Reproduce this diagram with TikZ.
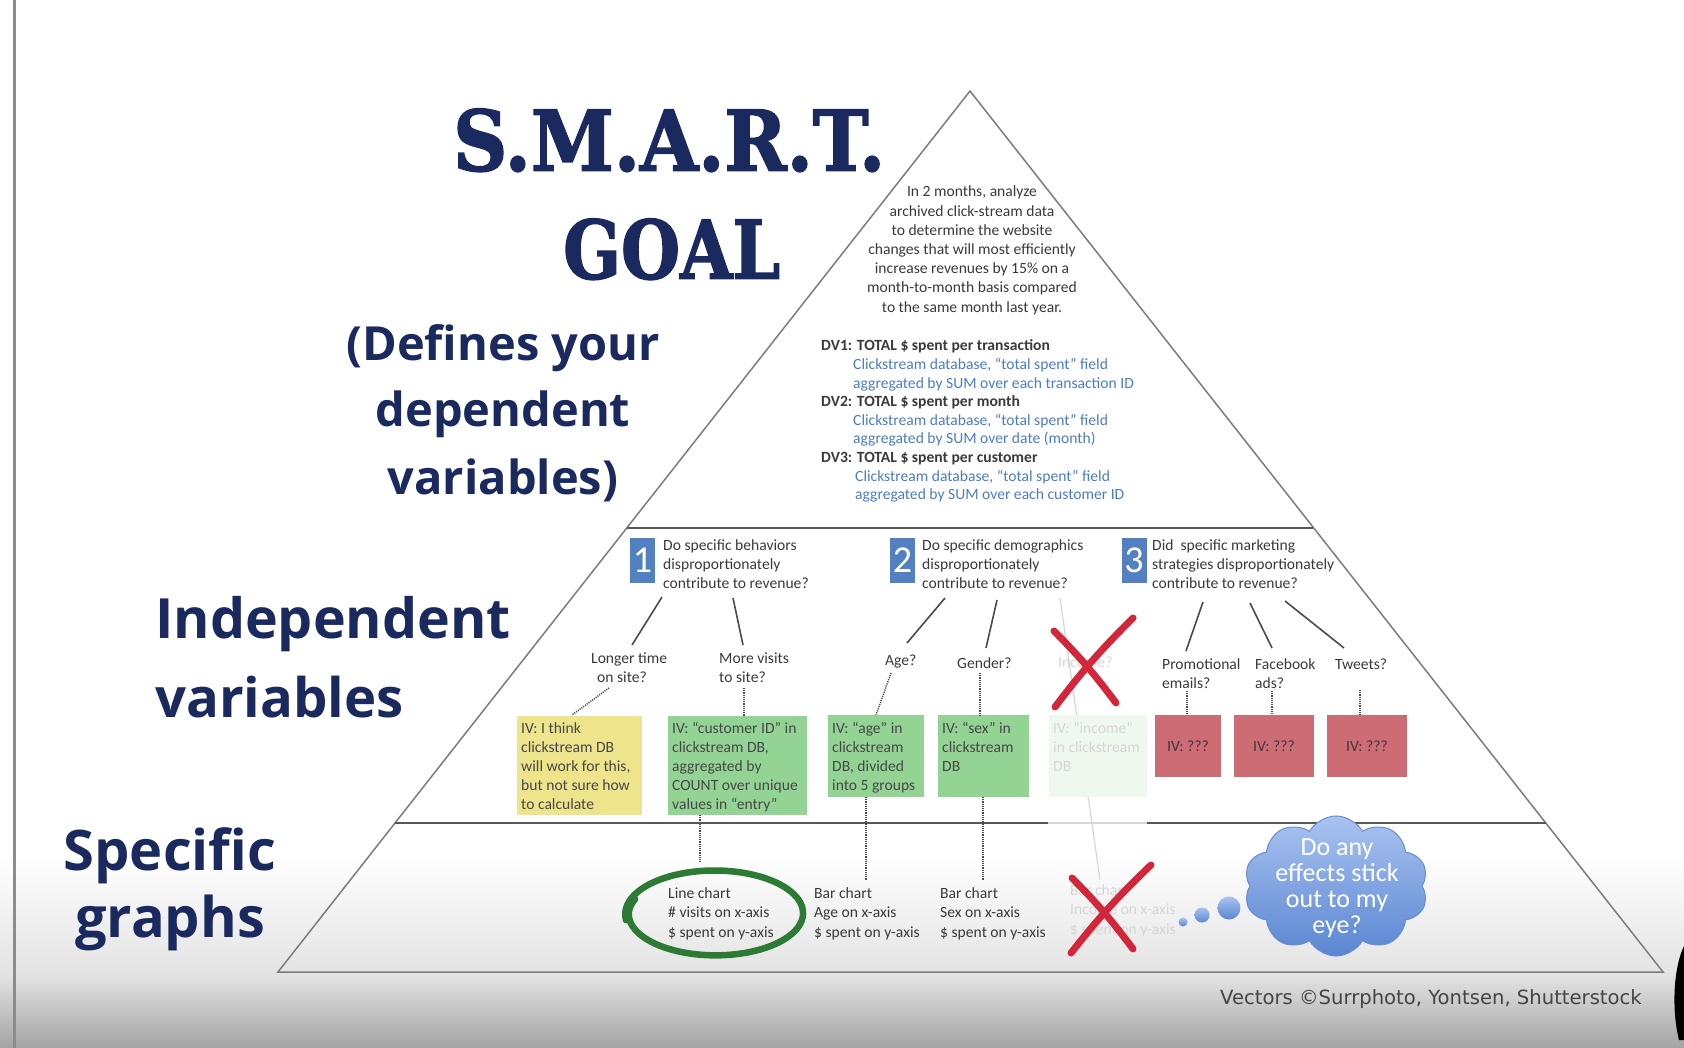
\documentclass[tikz,border=0pt]{standalone}
\usepackage{fontspec}
\usepackage{graphicx}
\setmainfont{Carlito}
\newfontfamily\headsans{Open Sans}
\newfontfamily\creditfont{DejaVu Sans}
\newfontfamily\stencilish[BoldFeatures={FakeBold=2}]{DejaVu Serif}
\usetikzlibrary{shapes.symbols,calc}

\definecolor{navy}{HTML}{1B2A5E}
\definecolor{txt}{HTML}{3A3A3A}
\definecolor{dvblue}{HTML}{4C7DC6}
\definecolor{numblue}{HTML}{5280C0}
\definecolor{ivyellow}{HTML}{EDE48C}
\definecolor{ivgreen}{HTML}{93D394}
\definecolor{ivpale}{HTML}{EFF8EF}
\definecolor{ivred}{HTML}{CE6C75}
\definecolor{edge}{HTML}{7C7C7C}
\definecolor{divider}{HTML}{585858}
\definecolor{conn}{HTML}{4A4A4A}
\definecolor{faint}{HTML}{D6D6D6}
\definecolor{ringgreen}{HTML}{2C7A34}
\definecolor{xred}{HTML}{D2263A}
\definecolor{cloudtop}{HTML}{A9C3F0}
\definecolor{cloudbot}{HTML}{5A86D2}
\definecolor{cloudedge}{HTML}{6A8ED0}
\definecolor{credit}{HTML}{444444}

\newcommand\leftlines[1]{\begin{tabular}[t]{@{}l@{}}#1\end{tabular}}
\newcommand\centerlines[1]{\begin{tabular}[t]{@{}c@{}}#1\end{tabular}}

\tikzset{
  small/.style={inner sep=0pt, text=txt, font=\fontsize{15.6}{19}\selectfont},
  fainttext/.style={small, text=faint},
  bigleft/.style={inner sep=0pt, text=navy, anchor=base},
  sideline/.style={draw=edge, line width=1.5pt},
  divline/.style={draw=divider, line width=2.4pt},
  solidconn/.style={draw=conn, line width=1.6pt},
  dotconn/.style={draw=conn, line width=1.5pt, dash pattern=on 1.1pt off 1.1pt},
  numbox/.style={fill=numblue, minimum width=25pt, minimum height=45pt, inner sep=0pt,
    text=white, font=\fontsize{38}{38}\selectfont},
  ivbox/.style={inner sep=0pt, anchor=north west},
  redbox/.style={fill=ivred, minimum width=66pt, minimum height=62pt, inner sep=0pt,
    text=txt, font=\fontsize{15.6}{19}\selectfont},
  xmark/.style={draw=xred, line width=7pt, line cap=round},
  bubble/.style={circle, inner sep=0pt, top color=cloudtop, bottom color=cloudbot},
}

\begin{document}
\begin{tikzpicture}[x=1pt,y=-1pt]
% page and bottom fade
\useasboundingbox (0,0) rectangle (1684,1048);
\fill[white] (0,0) rectangle (1684,1048);
\shade[top color=white, bottom color=gray!22] (0,855) rectangle (1684,975);
\shade[top color=gray!22, bottom color=gray!72] (0,975) rectangle (1684,1048);
\draw[line width=3pt, draw=gray!90] (14,0) -- (14,1048);
\fill[black] (1684,946) .. controls (1674,966) and (1671,1008) .. (1679,1040) -- (1684,1040) -- cycle;

% pyramid
\coordinate (apex) at (970,91);
\coordinate (bl) at (278,972);
\coordinate (br) at (1663,972);
\draw[sideline] (bl) -- (apex) -- (br) -- cycle;
\draw[divline] (626.7,528) -- (1313.3,528);
\draw[divline] (395,823) -- (1048,823);
\draw[draw=faint, line width=2pt] (1048,823) -- (1147,823);
\draw[divline] (1147,823) -- (1546,823);

% title
\node[anchor=south west, inner sep=0pt, text=navy] (smart) at (453,172)
  {\resizebox{432pt}{62pt}{\stencilish\bfseries S.M.A.R.T.}};
\node[anchor=south west, inner sep=0pt, text=navy] (goal) at (563,280)
  {\resizebox{217pt}{60pt}{\stencilish\bfseries GOAL}};

% left-hand level labels
\node[bigleft, font=\headsans\bfseries\fontsize{47}{47}\selectfont] (def1) at (503,361) {(Defines your};
\node[bigleft, font=\headsans\bfseries\fontsize{47}{47}\selectfont] (def2) at (503,427) {dependent};
\node[bigleft, font=\headsans\bfseries\fontsize{47}{47}\selectfont] (def3) at (503,494) {variables)};
\node[bigleft, anchor=base west, font=\headsans\bfseries\fontsize{55.5}{55.5}\selectfont] (ind1) at (155,638) {Independent};
\node[bigleft, anchor=base west, font=\headsans\bfseries\fontsize{54.5}{54.5}\selectfont] (ind2) at (155,717) {variables};
\node[bigleft, font=\headsans\bfseries\fontsize{56}{56}\selectfont] (spec1) at (170,870) {Specific};
\node[bigleft, font=\headsans\bfseries\fontsize{56}{56}\selectfont] (spec2) at (170,937) {graphs};

% goal statement
\node[small, anchor=base, font=\fontsize{15.6}{19.2}\selectfont] (goaltxt) at (972,197)
  {\centerlines{In 2 months, analyze\\ archived click-stream data\\ to determine the website\\
   changes that will most efficiently\\ increase revenues by 15\% on a\\
   month-to-month basis compared\\ to the same month last year.}};

% dependent variables
\node[small, anchor=base west, font=\fontsize{15.6}{18.6}\selectfont] (dvs) at (821,351)
  {\leftlines{\textbf{DV1: TOTAL \$ spent per transaction}\\
   \hspace*{32pt}\textcolor{dvblue}{Clickstream database, “total spent” field}\\
   \hspace*{32pt}\textcolor{dvblue}{aggregated by SUM over each transaction ID}\\
   \textbf{DV2: TOTAL \$ spent per month}\\
   \hspace*{32pt}\textcolor{dvblue}{Clickstream database, “total spent” field}\\
   \hspace*{32pt}\textcolor{dvblue}{aggregated by SUM over date (month)}\\
   \textbf{DV3: TOTAL \$ spent per customer}\\
   \hspace*{34pt}\textcolor{dvblue}{Clickstream database, “total spent” field}\\
   \hspace*{34pt}\textcolor{dvblue}{aggregated by SUM over each customer ID}}};

% research questions
\node[numbox] (n1) at (642.5,560.5) {1};
\node[numbox] (n2) at (902.5,560.5) {2};
\node[numbox] (n3) at (1134,560.5) {3};
\node[small, anchor=base west] (q1) at (663,550)
  {\leftlines{Do specific behaviors\\ disproportionately\\ contribute to revenue?}};
\node[small, anchor=base west] (q2) at (922,550)
  {\leftlines{Do specific demographics\\ disproportionately\\ contribute to revenue?}};
\node[small, anchor=base west] (q3) at (1152,550)
  {\leftlines{Did\ \ specific marketing\\ strategies disproportionately\\ contribute to revenue?}};

% candidate factors
\node[small, anchor=base west] (longer) at (591,663) {\leftlines{Longer time\\ \hspace*{6pt}on site?}};
\node[small, anchor=base west] (visits) at (719,663) {\leftlines{More visits\\ to site?}};
\node[small, anchor=base west] (age) at (885,665) {Age?};
\node[small, anchor=base west] (gender) at (957,668) {Gender?};
\node[fainttext, anchor=base west] (income) at (1058,667) {Income?};
\node[small, anchor=base west] (promo) at (1162,669) {\leftlines{Promotional\\ emails?}};
\node[small, anchor=base west] (fb) at (1255,669) {\leftlines{Facebook\\ ads?}};
\node[small, anchor=base west] (tweets) at (1335,669) {Tweets?};

% faint line of the dropped income branch
\coordinate (incTop) at (1060,598);
\coordinate (incBot) at (1100,880);
\draw[draw=faint, line width=1.2pt] (incTop) -- (incBot);

% connectors question -> factor
\coordinate (q1a) at (662,597); \coordinate (q1b) at (733,598);
\coordinate (q2a) at (945,598); \coordinate (q2b) at (997,600);
\coordinate (q3a) at (1203,602); \coordinate (q3b) at (1250,603); \coordinate (q3c) at (1285,601);
\coordinate (longerT) at (632,645); \coordinate (visitsT) at (743,645);
\coordinate (ageT) at (907,643); \coordinate (genderT) at (986,648);
\coordinate (promoT) at (1186,651); \coordinate (fbT) at (1272,648); \coordinate (tweetsT) at (1344,648);
\draw[solidconn] (q1a) -- (longerT);
\draw[solidconn] (q1b) -- (visitsT);
\draw[solidconn] (q2a) -- (ageT);
\draw[solidconn] (q2b) -- (genderT);
\draw[solidconn] (q3a) -- (promoT);
\draw[solidconn] (q3b) -- (fbT);
\draw[solidconn] (q3c) -- (tweetsT);

% independent-variable boxes
\node[ivbox, fill=ivyellow, minimum width=125pt, minimum height=99pt] (ivA) at (517,716) {};
\node[ivbox, fill=ivgreen, minimum width=139pt, minimum height=99pt] (ivB) at (668,716) {};
\node[ivbox, fill=ivgreen, minimum width=96pt, minimum height=82pt] (ivC) at (828,715) {};
\node[ivbox, fill=ivgreen, minimum width=91pt, minimum height=82pt] (ivD) at (938,715) {};
\node[ivbox, fill=ivpale, minimum width=98pt, minimum height=82pt] (ivE) at (1049,715) {};
\node[redbox] (ivF) at (1188,746) {IV: ???};
\node[redbox, minimum width=80pt] (ivG) at (1274,746) {IV: ???};
\node[redbox, minimum width=80pt] (ivH) at (1367,746) {IV: ???};

\node[small, anchor=base west, text=black!72] (ivAtxt) at (521,733)
  {\leftlines{IV: I think\\ clickstream DB\\ will work for this,\\ but not sure how\\ to calculate}};
\node[small, anchor=base west, text=black!72] (ivBtxt) at (672,733)
  {\leftlines{IV: “customer ID” in\\ clickstream DB,\\ aggregated by\\ COUNT over unique\\ values in “entry”}};
\node[small, anchor=base west, text=black!72] (ivCtxt) at (832,733)
  {\leftlines{IV: “age” in\\ clickstream\\ DB, divided\\ into 5 groups}};
\node[small, anchor=base west, text=black!72] (ivDtxt) at (942,733)
  {\leftlines{IV: “sex” in\\ clickstream\\ DB}};
\node[fainttext, anchor=base west] (ivEtxt) at (1053,733)
  {\leftlines{IV: “income”\\ in clickstream\\ DB}};

% dotted links factor -> IV
\coordinate (longerB) at (609,688); \coordinate (ivAT) at (572,715);
\coordinate (visitsB) at (744,688);
\coordinate (ageB) at (891,673); \coordinate (ivCT) at (876,715);
\coordinate (genderB) at (980,673);
\coordinate (promoB) at (1187,691); \coordinate (fbB) at (1272,691); \coordinate (tweetsB) at (1360,690);
\draw[dotconn] (longerB) -- (ivAT);
\draw[dotconn] (visitsB) -- (visitsB |- ivB.north);
\draw[dotconn] (ageB) -- (ivCT);
\draw[dotconn] (genderB) -- (genderB |- ivD.north);
\draw[dotconn] (promoB) -- (promoB |- ivF.north);
\draw[dotconn] (fbB) -- (fbB |- ivG.north);
\draw[dotconn] (tweetsB) -- (tweetsB |- ivH.north);

% graphs
\node[small, anchor=base west, font=\fontsize{15.6}{19.5}\selectfont] (gA) at (668,898)
  {\leftlines{Line chart\\ \# visits on x-axis\\ \$ spent on y-axis}};
\node[small, anchor=base west, font=\fontsize{15.6}{19.5}\selectfont] (gB) at (814,898)
  {\leftlines{Bar chart\\ Age on x-axis\\ \$ spent on y-axis}};
\node[small, anchor=base west, font=\fontsize{15.6}{19.5}\selectfont] (gC) at (940,898)
  {\leftlines{Bar chart\\ Sex on x-axis\\ \$ spent on y-axis}};
\node[fainttext, anchor=base west, font=\fontsize{15.6}{19.5}\selectfont] (gD) at (1070,895)
  {\leftlines{Bar chart\\ Income on x-axis\\ \$ spent on y-axis}};

\coordinate (ivBb) at (700,815); \coordinate (gAt) at (700,863);
\coordinate (ivCb) at (866,797); \coordinate (gBt) at (866,880);
\coordinate (ivDb) at (983,797); \coordinate (gCt) at (983,880);
\draw[dotconn] (ivBb) -- (gAt);
\draw[dotconn] (ivCb) -- (gBt);
\draw[dotconn] (ivDb) -- (gCt);

% hand-drawn ring round the line chart
\draw[draw=ringgreen, line width=6.5pt, line cap=round]
  plot[smooth, domain=158:548, samples=80]
  ({713 + (84 + 0.02*(\x-158))*cos(\x) + 0.01*(\x-158)},
   {914 - (40 + 0.012*(\x-158))*sin(\x)});

% crossed-out branch
\draw[xmark] (1054,631) to[bend left=4] (1116,703);
\draw[xmark] (1133,618) to[bend right=4] (1055,707);
\draw[xmark] (1072,878) to[bend left=4] (1133,949);
\draw[xmark] (1151,865) to[bend right=4] (1071,953);

% thought cloud
\node[bubble, minimum size=9pt] (b1) at (1183,922) {};
\node[bubble, minimum size=15pt] (b2) at (1202,915) {};
\node[bubble, minimum size=23pt] (b3) at (1229,908) {};
\node[cloud, cloud puffs=10, cloud puff arc=120, draw=cloudedge, line width=1pt,
  top color=cloudtop, bottom color=cloudbot, minimum width=184pt, minimum height=140pt,
  inner sep=0pt] (cloud) at (1336,886) {};
\node[inner sep=0pt, anchor=base, text=white, font=\fontsize{26}{26}\selectfont] (cloudtxt) at (1337,855)
  {\centerlines{Do any\\ effects stick\\ out to my\\ eye?}};

% credit line
\node[inner sep=0pt, anchor=base west, text=credit, font=\creditfont\fontsize{19.6}{19.6}\selectfont]
  (credit) at (1220,1004) {Vectors ©Surrphoto, Yontsen, Shutterstock};
\end{tikzpicture}
\end{document}
